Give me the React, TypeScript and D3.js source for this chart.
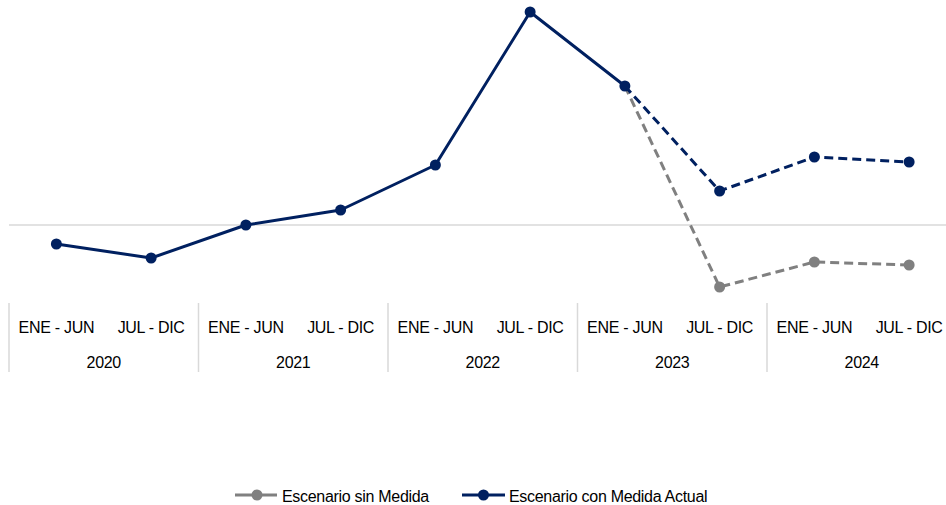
import React from "react";
import * as d3 from "d3";

const periods = ["ENE - JUN", "JUL - DIC", "ENE - JUN", "JUL - DIC", "ENE - JUN", "JUL - DIC", "ENE - JUN", "JUL - DIC", "ENE - JUN", "JUL - DIC"];
const years = ["2020", "2021", "2022", "2023", "2024"];
const conMedida = [-1.9, -3.3, 0.0, 1.5, 6.0, 21.3, 13.9, 3.4, 6.8, 6.3];
const sinMedida: (number | null)[] = [null, null, null, null, null, null, 13.9, -6.2, -3.7, -4.0];
const projectionStart = 6;
const seriesNames = ["Escenario sin Medida", "Escenario con Medida Actual"];

const W = 946;
const H = 505;
const BLUE = "#002060";
const GRAY = "#808080";
const GRID = "#d9d9d9";
const FONT = "'Liberation Sans', Arial, sans-serif";

export default function App() {
  const idx = periods.map((_, i) => i);
  const x = d3.scaleBand<number>().domain(idx).range([9, 956.5]).padding(0);
  const cx = (i: number) => (x(i) as number) + x.bandwidth() / 2;
  const y = d3.scaleLinear().domain([-7.5, 22.5]).range([300, 0]);
  const yearW = x.bandwidth() * 2;

  const line = d3
    .line<[number, number]>()
    .x((d) => cx(d[0]))
    .y((d) => y(d[1]));

  const solidPts: [number, number][] = conMedida.slice(0, projectionStart + 1).map((v, i) => [i, v]);
  const dashBluePts: [number, number][] = conMedida.slice(projectionStart).map((v, i) => [i + projectionStart, v]);
  const grayPts: [number, number][] = sinMedida
    .map((v, i) => [i, v] as [number, number | null])
    .filter((d) => d[1] !== null) as [number, number][];

  const textStyle = { fontFamily: FONT, fontSize: 16, letterSpacing: -0.3, fill: "#000" } as React.CSSProperties;

  return (
    <svg
      width={W}
      height={H}
      style={{ position: "absolute", left: 0, top: 0, display: "block", background: "#fff" }}
    >
      {/* zero line */}
      <line x1={9} x2={W} y1={y(0)} y2={y(0)} stroke={GRID} strokeWidth={1.5} />

      {/* category axis separators */}
      {d3.range(years.length + 1).map((k) => (
        <line
          key={"sep" + k}
          x1={9 + yearW * k}
          x2={9 + yearW * k}
          y1={303}
          y2={372}
          stroke={GRID}
          strokeWidth={1.5}
        />
      ))}
      {periods.map((p, i) => (
        <text key={"p" + i} x={cx(i)} y={333} textAnchor="middle" style={textStyle}>
          {p}
        </text>
      ))}
      {years.map((yr, k) => (
        <text key={"y" + k} x={9 + yearW * (k + 0.5)} y={368} textAnchor="middle" style={textStyle}>
          {yr}
        </text>
      ))}

      {/* gray projection */}
      <path d={line(grayPts) as string} fill="none" stroke={GRAY} strokeWidth={3} strokeDasharray="9,5" />
      {grayPts.slice(1).map((d) => (
        <circle key={"g" + d[0]} cx={cx(d[0])} cy={y(d[1])} r={5.5} fill={GRAY} />
      ))}

      {/* blue */}
      <path d={line(dashBluePts) as string} fill="none" stroke={BLUE} strokeWidth={3} strokeDasharray="9,5" />
      <path d={line(solidPts) as string} fill="none" stroke={BLUE} strokeWidth={3} strokeLinejoin="round" />
      {conMedida.map((v, i) => (
        <circle key={"b" + i} cx={cx(i)} cy={y(v)} r={5.5} fill={BLUE} />
      ))}

      {/* legend */}
      <g>
        <line x1={235} x2={277} y1={495} y2={495} stroke={GRAY} strokeWidth={3} />
        <circle cx={257} cy={495} r={5.5} fill={GRAY} />
        <text x={282} y={502} style={textStyle}>
          {seriesNames[0]}
        </text>
        <line x1={462} x2={505} y1={495} y2={495} stroke={BLUE} strokeWidth={3} />
        <circle cx={483.5} cy={495} r={5.5} fill={BLUE} />
        <text x={509} y={502} style={textStyle}>
          {seriesNames[1]}
        </text>
      </g>
    </svg>
  );
}
